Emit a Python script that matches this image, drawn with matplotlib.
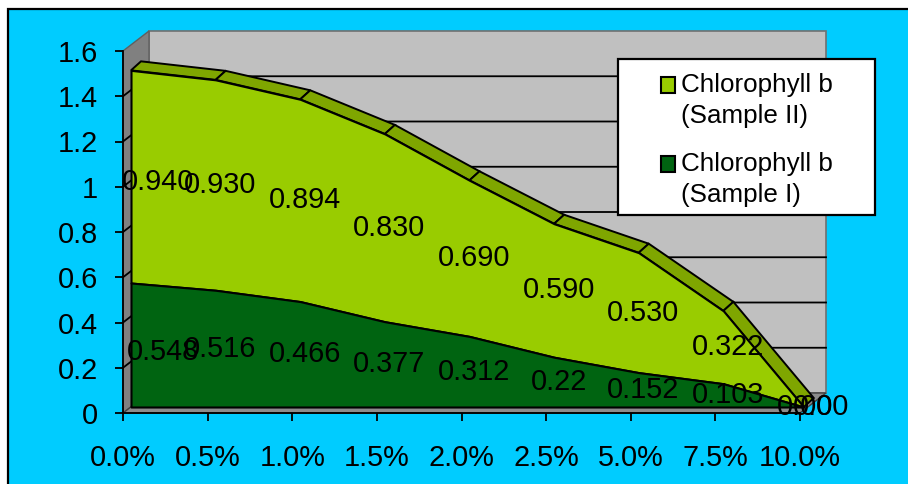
import numpy as np
import matplotlib
matplotlib.use('Agg')
import matplotlib.pyplot as plt
from matplotlib.patches import Polygon, Rectangle, Patch
from matplotlib.legend_handler import HandlerPatch
from matplotlib.transforms import Affine2D, IdentityTransform

plt.rcParams['font.family'] = ['Liberation Sans', 'DejaVu Sans']

categories = ['0.0%', '0.5%', '1.0%', '1.5%', '2.0%', '2.5%', '5.0%', '7.5%', '10.0%']
sample_1 = [0.548, 0.516, 0.466, 0.377, 0.312, 0.22, 0.152, 0.103, 0.0]
sample_2 = [0.940, 0.930, 0.894, 0.830, 0.690, 0.590, 0.530, 0.322, 0.0]
labels_1 = ['0.548', '0.516', '0.466', '0.377', '0.312', '0.22', '0.152', '0.103', '0.00']
labels_2 = ['0.940', '0.930', '0.894', '0.830', '0.690', '0.590', '0.530', '0.322', '0.00']
y_ticks = [0, 0.2, 0.4, 0.6, 0.8, 1, 1.2, 1.4, 1.6]
y_ticklabels = ['0', '0.2', '0.4', '0.6', '0.8', '1', '1.2', '1.4', '1.6']

W, H = 908, 484
LIGHT = '#99CC00'
DARK = '#006411'
TOP = '#7FA600'
BG = '#00CCFF'
FS = 20.8

fig = plt.figure(figsize=(W / 100, H / 100), dpi=100, facecolor='white')
fig.add_artist(Rectangle((8 / W, -0.01), 1, (H - 9) / H + 0.01, transform=fig.transFigure,
                         facecolor=BG, edgecolor='black', linewidth=1.6, zorder=-1))

ax = fig.add_axes([123 / W, (H - 413) / H, 677 / W, 362 / H])
ax.patch.set_visible(False)
ax.set_xlim(0, 8)
ax.set_ylim(0, 1.6)
for s in ['top', 'right']:
    ax.spines[s].set_visible(False)
for s in ['left', 'bottom']:
    ax.spines[s].set_linewidth(1.3)
    ax.spines[s].set_zorder(6)
ax.set_xticks(range(len(categories)))
ax.set_xticklabels(categories, fontsize=FS)
ax.set_yticks(y_ticks)
ax.set_yticklabels(y_ticklabels, fontsize=FS)
ax.tick_params(axis='x', length=6, width=1.3, pad=16.5)
ax.tick_params(axis='y', length=6, width=1.3, pad=12)


def shift(dx, dy):
    return ax.transData + Affine2D().translate(dx, dy)


def px(i, v, dx=0, dy=0):
    p = ax.transData.transform((i, v))
    return (p[0] + dx, p[1] + dy)


def poly(points, **kw):
    ax.add_patch(Polygon(points, closed=True, transform=IdentityTransform(), clip_on=False, **kw))


# back wall, side wall, floor
DX, DY = 26, 20
poly([px(0, 0, DX, DY), px(0, 1.6, DX, DY), px(8, 1.6, DX, DY), px(8, 0, DX, DY)],
     facecolor='#C0C0C0', edgecolor='#707070', linewidth=1.2, zorder=1)
poly([px(0, 0), px(0, 1.6), px(0, 1.6, DX, DY), px(0, 0, DX, DY)],
     facecolor='#808080', edgecolor='#606060', linewidth=1, zorder=1)
poly([px(0, 0), px(8, 0), px(8, 0, DX, DY), px(0, 0, DX, DY)],
     facecolor='#8C8C8C', edgecolor='#404040', linewidth=1, zorder=1)
for v in y_ticks[1:-1]:
    a, b, c = px(0, v), px(0, v, DX, DY), px(8, v, DX, DY)
    ax.plot([a[0], b[0], c[0]], [a[1], b[1], c[1]], color='black', lw=1.3,
            transform=IdentityTransform(), clip_on=False, zorder=2)

x = np.arange(len(categories), dtype=float)
x[-1] = 7.95  # the last category closes slightly short of the tick
s1 = np.array(sample_1)
s2 = s1 + np.array(sample_2)

# top strip of the upper series
FX, FY = 8, 6
BX, BY = 18, 15
for i in range(len(x) - 1):
    poly([px(x[i], s2[i], FX, FY), px(x[i + 1], s2[i + 1], FX, FY),
          px(x[i + 1], s2[i + 1], BX, BY), px(x[i], s2[i], BX, BY)],
         facecolor=TOP, edgecolor='black', linewidth=1.4, zorder=3)

ax.fill_between(x, s1, s2, transform=shift(FX, FY), facecolor=LIGHT, edgecolor='black',
                linewidth=1.5, clip_on=False, zorder=4)
ax.fill_between(x, 0, s1, transform=shift(FX, FY), facecolor=DARK, edgecolor='black',
                linewidth=1.5, clip_on=False, zorder=4)

# data labels sit in the middle of each band, Excel nudged a few of them
nudge_1 = {0: (40, -1), 8: (9, 6)}
nudge_2 = {0: (35, 1), 8: (25, 6)}
for i in range(len(x)):
    ndx, ndy = nudge_1.get(i, (12.5, 6))
    ax.text(x[i], s1[i] / 2, labels_1[i], transform=shift(ndx, ndy), fontsize=FS,
            ha='center', va='center', color='black', zorder=7, clip_on=False)
    ndx, ndy = nudge_2.get(i, (12.5, 6))
    ax.text(x[i], (s1[i] + s2[i]) / 2, labels_2[i], transform=shift(ndx, ndy), fontsize=FS,
            ha='center', va='center', color='black', zorder=7, clip_on=False)


# legend box, swatch lines up with the first text line
def top_swatch(legend, orig_handle, xdescent, ydescent, width, height, fontsize):
    return Rectangle((-xdescent, -ydescent + 11.2), width, height)


fig.add_artist(Rectangle((618 / W, (H - 215) / H), 257 / W, 156 / H, transform=fig.transFigure,
                         facecolor='white', edgecolor='black', linewidth=1.6, zorder=8))
handles = [Patch(facecolor=LIGHT, edgecolor='black', linewidth=1.5),
           Patch(facecolor=DARK, edgecolor='black', linewidth=1.5)]
leg = fig.legend(handles, ['Chlorophyll b\n(Sample II)', 'Chlorophyll b\n(Sample I)'],
                 loc='upper left', bbox_to_anchor=(661 / W, (H - 73) / H), frameon=False,
                 fontsize=18.7, handlelength=0.55, handleheight=0.55, handletextpad=0.22,
                 borderpad=0, borderaxespad=0, labelspacing=0.91, alignment='left',
                 handler_map={Patch: HandlerPatch(patch_func=top_swatch)})
for t in leg.get_texts():
    t.set_linespacing(1.37)
leg.set_zorder(9)

fig.savefig('out.png', dpi=100)
